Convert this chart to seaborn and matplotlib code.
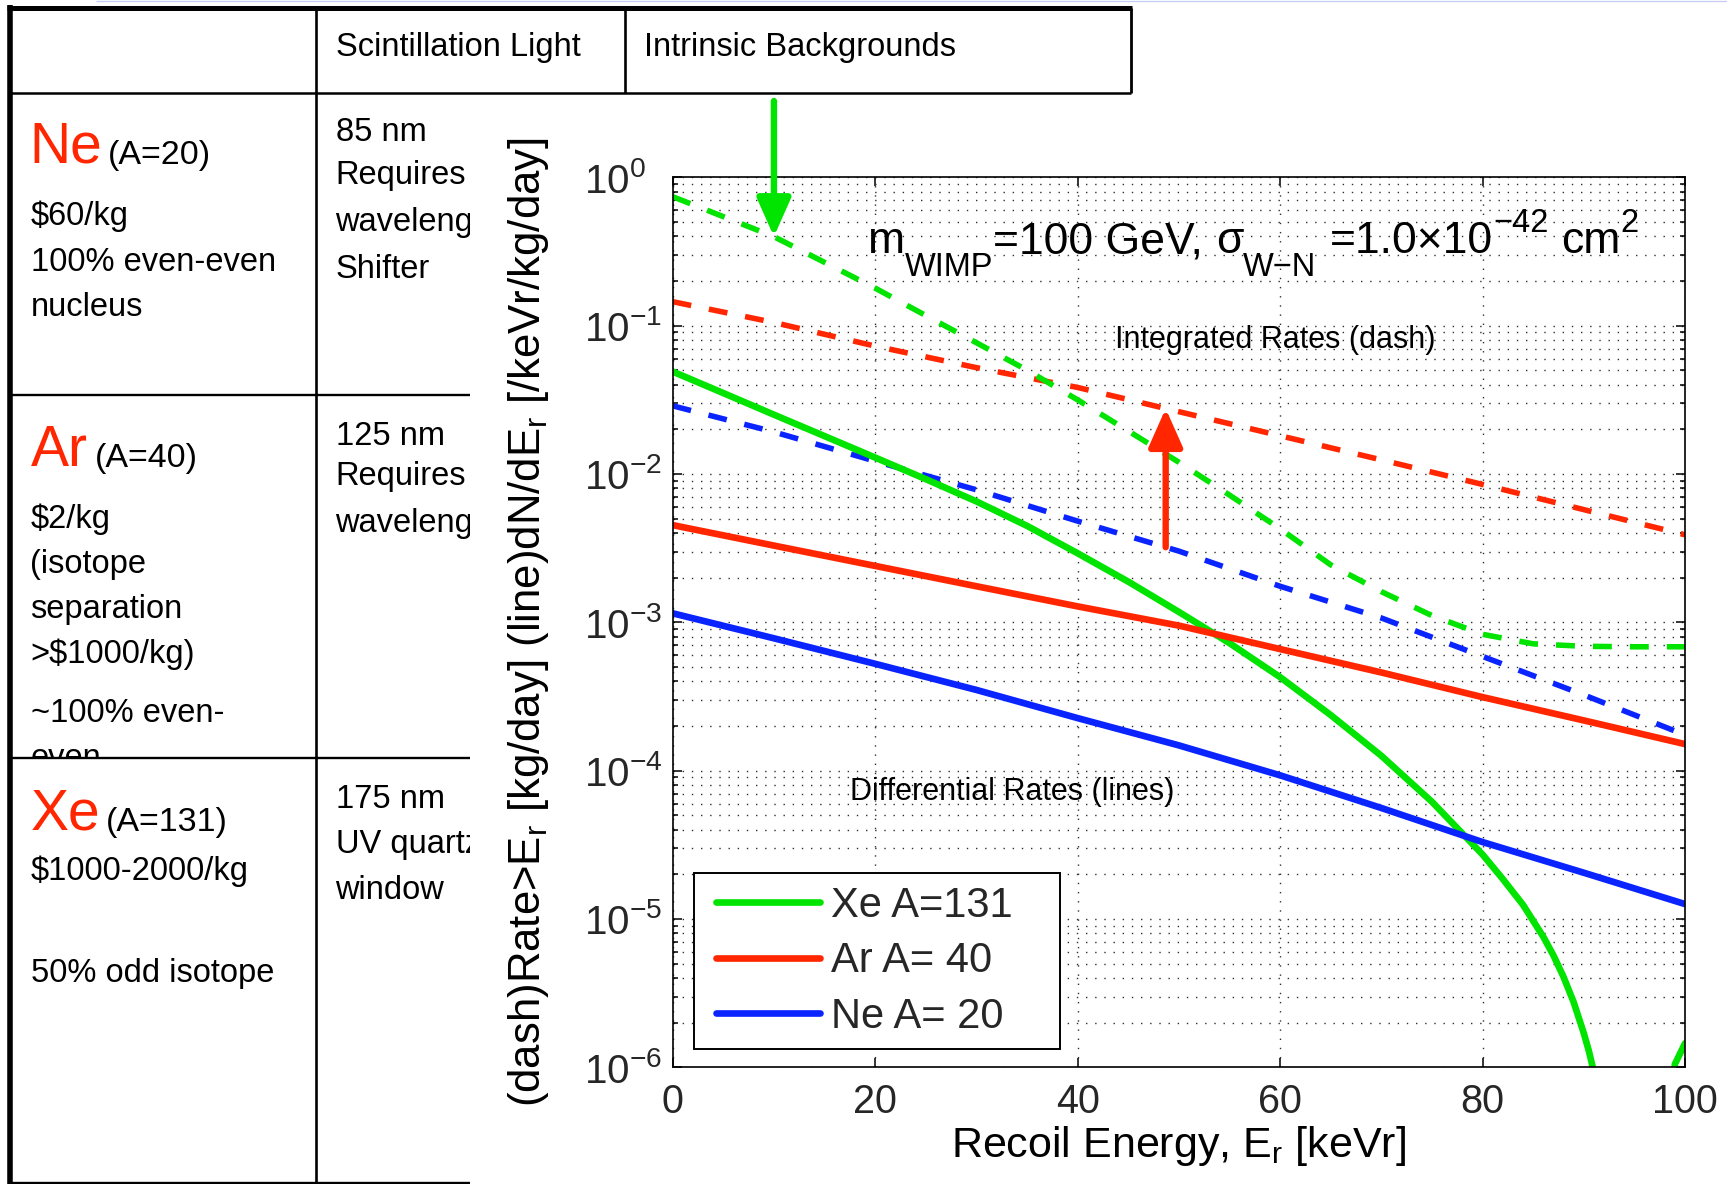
import numpy as np
import matplotlib
matplotlib.use("Agg")
import matplotlib.pyplot as plt
import seaborn as sns
from matplotlib import font_manager
from matplotlib.lines import Line2D
from matplotlib.legend_handler import HandlerLine2D
from matplotlib.transforms import Bbox, TransformedBbox
from matplotlib.ticker import LogLocator, NullFormatter, FixedLocator

# ---------------- rates vs recoil energy (keVr) ----------------
energy = [0, 10, 20, 30, 40, 50, 60, 70, 80, 90, 100]

# differential rates [/keVr/kg/day]
ar_diff = [4.52e-3, 3.29e-3, 2.40e-3, 1.75e-3, 1.28e-3, 9.5e-4, 6.6e-4, 4.59e-4, 3.13e-4, 2.18e-4, 1.51e-4]
ne_diff = [1.15e-3, 7.8e-4, 5.25e-4, 3.5e-4, 2.26e-4, 1.48e-4, 9.3e-5, 5.6e-5, 3.3e-5, 2.05e-5, 1.26e-5]

xe_diff_energy = [0, 5, 10, 15, 20, 25, 30, 35, 40, 45, 50, 55, 60, 65, 70, 75, 80, 82, 84, 86, 87,
                  88, 89, 90, 90.5, 91, 91.5, 92, 98.3, 99, 100]
xe_diff = [0.0490, 0.0351, 0.0251, 0.0180, 0.0129, 0.00923, 0.00653, 0.00447, 0.00292, 0.00188,
           0.001175, 7.24e-4, 4.27e-4, 2.37e-4, 1.26e-4, 6.17e-5, 2.72e-5, 1.86e-5, 1.245e-5, 7.59e-6,
           5.69e-6, 4.07e-6, 2.75e-6, 1.70e-6, 1.29e-6, 9.3e-7, 5.0e-7, 2.0e-7, 2.0e-7, 1.05e-6, 1.45e-6]

# integrated rates above threshold [kg/day]
ar_int = [0.145, 0.105, 0.0728, 0.0521, 0.0383, 0.0263, 0.0181, 0.01245, 0.0085, 0.00575, 0.00389]
ne_int = [0.0288, 0.0192, 0.0122, 0.00782, 0.00481, 0.00302, 0.00175, 0.00107, 5.89e-4, 3.24e-4, 1.74e-4]

xe_int_energy = [0, 5, 10, 15, 20, 25, 30, 35, 40, 45, 50, 55, 60, 65, 70, 75, 80, 85, 90, 95, 100]
xe_int = [0.740, 0.543, 0.398, 0.267, 0.179, 0.117, 0.0767, 0.0501, 0.0316, 0.0195, 0.0120, 0.00721,
          0.00427, 0.00244, 0.00161, 0.00111, 0.00083, 0.000716, 0.000689, 0.000684, 0.000684]

legend_labels = ["Xe A=131", "Ar A= 40", "Ne A= 20"]
x_ticks = [0, 20, 40, 60, 80, 100]

GREEN, RED, BLUE = "#00e400", "#ff2600", "#0a24ff"

# ---------------- style ----------------
sns.set_theme(style="white")
plt.rcParams["font.family"] = ["Liberation Sans", "DejaVu Sans"]
plt.rcParams.update({
    "mathtext.fontset": "custom",
    "mathtext.rm": "Liberation Sans",
    "mathtext.it": "Liberation Sans:italic",
    "mathtext.bf": "Liberation Sans:bold",
    "mathtext.sf": "Liberation Sans",
    "mathtext.default": "regular",
    "axes.unicode_minus": True,
})


def installed(name):
    try:
        font_manager.findfont(font_manager.FontProperties(family=name), fallback_to_default=False)
        return True
    except ValueError:
        return False


HAS_NARROW = installed("Liberation Sans Narrow")
NARROW = ["Liberation Sans Narrow", "Liberation Sans"] if HAS_NARROW else ["Liberation Sans"]
SYM_SIZE = 45 if HAS_NARROW else 41
MASS_SIZE = 27 if HAS_NARROW else 24.5

W, H, DPI = 1727, 1184, 100
fig = plt.figure(figsize=(W / DPI, H / DPI), dpi=DPI, facecolor="white")


def fx(x):
    return x / W


def fy(y):
    return 1.0 - y / H


def rule(x0, y0, x1, y1, lw, color="black"):
    fig.add_artist(Line2D([fx(x0), fx(x1)], [fy(y0), fy(y1)], transform=fig.transFigure,
                          color=color, linewidth=lw, solid_capstyle="butt"))


def cell(x, y, s, clip=None, **kw):
    kw.setdefault("fontsize", 23.5)
    kw.setdefault("color", "black")
    t = fig.text(fx(x), fy(y), s, ha="left", va="baseline", **kw)
    if clip is not None:
        x0, y0, x1, y1 = clip
        t.set_clip_box(TransformedBbox(Bbox([[fx(x0), fy(y1)], [fx(x1), fy(y0)]]), fig.transFigure))
        t.set_clip_on(True)
    return t


# ---------------- comparison table ----------------
rule(96, 0.8, W, 0.8, 0.9, color="#c6ccf0")
rule(7, 7.5, 1132, 7.5, 3.6)
rule(9.5, 5, 9.5, H, 4.0)
rule(9.5, 93, 1131, 93, 1.8)
rule(1130.5, 7.5, 1130.5, 93, 2.0)
rule(316.3, 7.5, 316.3, H, 1.9)
rule(624.5, 7.5, 624.5, 93, 1.9)
rule(9.5, 395, 470, 395, 1.7)
rule(9.5, 758.3, 470, 758.3, 1.7)
rule(9.5, 1183, 470, 1183, 1.7)

cell(335.5, 56, "Scintillation Light")
cell(644, 56, "Intrinsic Backgrounds")

col2_ne = (317, 93, 470, 395)
col2_ar = (317, 395, 470, 758)
col2_xe = (317, 758, 470, H)
col1_ar = (10, 395, 316, 757)

# Ne row
cell(29, 163, "Ne", color=RED, fontsize=SYM_SIZE, family=NARROW)
cell(108, 164, "(A=20)", fontsize=MASS_SIZE, family=NARROW)
cell(30.5, 225, "$60/kg")
cell(30.5, 271, "100% even-even")
cell(30.5, 316, "nucleus")
cell(335.5, 141, "85 nm", clip=col2_ne)
cell(335.5, 184, "Requires", clip=col2_ne)
cell(335.5, 231, "wavelength", clip=col2_ne)
cell(335.5, 278, "Shifter", clip=col2_ne)

# Ar row
cell(31, 466, "Ar", color=RED, fontsize=SYM_SIZE, family=NARROW)
cell(95, 467, "(A=40)", fontsize=MASS_SIZE, family=NARROW)
cell(30.5, 528, "$2/kg", clip=col1_ar)
cell(30.5, 573, "(isotope", clip=col1_ar)
cell(30.5, 618, "separation", clip=col1_ar)
cell(30.5, 663, ">$1000/kg)", clip=col1_ar)
cell(30.5, 722, "~100% even-", clip=col1_ar)
cell(30.5, 767, "even", clip=col1_ar)
cell(335.5, 445, "125 nm", clip=col2_ar)
cell(335.5, 485, "Requires", clip=col2_ar)
cell(335.5, 532, "wavelength", clip=col2_ar)

# Xe row
cell(31, 829, "Xe", color=RED, fontsize=SYM_SIZE, family=NARROW)
cell(106, 831, "(A=131)", fontsize=MASS_SIZE, family=NARROW)
cell(30.5, 880, "$1000-2000/kg")
cell(30.5, 982, "50% odd isotope")
cell(335.5, 808, "175 nm", clip=col2_xe)
cell(335.5, 853, "UV quartz", clip=col2_xe)
cell(335.5, 899, "window", clip=col2_xe)

# ---------------- rate plot ----------------
AX_L, AX_R, AX_T, AX_B = 672.7, 1685.0, 177.3, 1067.3
ax = fig.add_axes([fx(AX_L), fy(AX_B), (AX_R - AX_L) / W, (AX_B - AX_T) / H])
ax.set_zorder(5)
ax.set_facecolor("white")
ax.set_yscale("log")

DASH_LW, SOLID_LW = 4.0, 4.8
DASH = (0, (3.4, 3.25))
dashed = [
    (energy, ne_int, BLUE),
    (energy, ar_int, RED),
    (xe_int_energy, xe_int, GREEN),
]
for xs, ys, c in dashed:
    sns.lineplot(x=xs, y=ys, ax=ax, color=c, linewidth=DASH_LW, linestyle=DASH,
                 estimator=None, errorbar=None, sort=False, legend=False)

solid = [
    (xe_diff_energy, xe_diff, GREEN),
    (energy, ar_diff, RED),
    (energy, ne_diff, BLUE),
]
handles = []
for xs, ys, c in solid:
    sns.lineplot(x=xs, y=ys, ax=ax, color=c, linewidth=SOLID_LW,
                 estimator=None, errorbar=None, sort=False, legend=False)
    line = ax.get_lines()[-1]
    line.set_solid_joinstyle("round")
    handles.append(line)

ax.set_xlim(0, 100)
ax.set_ylim(1e-6, 1)
ax.xaxis.set_major_locator(FixedLocator(x_ticks))
ax.yaxis.set_major_locator(LogLocator(base=10, numticks=12))
ax.yaxis.set_minor_locator(LogLocator(base=10, subs=np.arange(2, 10), numticks=12))
ax.yaxis.set_minor_formatter(NullFormatter())

GRID = dict(color="#303030", linestyle=(0, (1.0, 5.6)), linewidth=1.0)
ax.grid(True, which="major", axis="x", **GRID)
ax.grid(True, which="both", axis="y", **GRID)
ax.set_axisbelow(True)

for s in ax.spines.values():
    s.set_color("black")
    s.set_linewidth(1.2)
ax.tick_params(which="both", direction="in", top=True, right=True, bottom=True, left=True,
               color="black", width=1.1)
ax.tick_params(which="major", length=6.5)
ax.tick_params(which="minor", length=3.6)
ax.tick_params(axis="x", which="major", labelsize=28.5, pad=11)
ax.tick_params(axis="y", which="major", labelsize=29, pad=64)

ax.set_xlabel(r"Recoil Energy, E$_\mathregular{r}$ [keVr]", fontsize=31, color="black")
ax.set_ylabel(r"(dash)Rate>E$_\mathregular{r}$ [kg/day] (line)dN/dE$_\mathregular{r}$ [/keVr/kg/day]",
              fontsize=31.5, color="black")
ax.xaxis.set_label_coords(0.5, -0.064)
ax.yaxis.set_label_coords(-0.120, 0.5)

# model parameters, set piece by piece so the sub/superscripts sit like the plot's own labels
TITLE_Y = 0.9149
SUB = 23.5
title_pieces = [
    ("WIMP", SUB, 0, -16.5),
    ("=100 GeV,", 32, 0, 0),
    ("σ", 32, 9, 0),
    ("W\u2212N", SUB, 0, -16.5),
    ("=1.0\u00d710", 32, 9.5, 0),
    ("\u221242", SUB, 0, 15),
    ("cm", 32, 9.5, 0),
    ("2", SUB, 0, 15),
]
prev = ax.text(0.1929, TITLE_Y, "m", transform=ax.transAxes, fontsize=32,
               ha="left", va="baseline", color="black")
for s, size, gap, dy in title_pieces:
    prev = ax.annotate(s, xy=(1, TITLE_Y), xycoords=(prev, ax.transAxes),
                       xytext=(gap, dy), textcoords="offset points",
                       fontsize=size, ha="left", va="baseline", color="black")

ax.text(0.437, 0.8078, "Integrated Rates (dash)", transform=ax.transAxes,
        fontsize=22, ha="left", va="baseline", color="black")
ax.text(0.1752, 0.3003, "Differential Rates (lines)", transform=ax.transAxes,
        fontsize=22, ha="left", va="baseline", color="black")


def log_interp(e, xs, ys):
    return 10 ** np.interp(e, xs, np.log10(ys))


# arrows: Xe threshold gain at low energy, Ne -> Ar integrated-rate gap
ARROW = dict(arrowstyle="-|>,head_length=0.45,head_width=0.2", mutation_scale=52,
             lw=4.6, shrinkA=0, shrinkB=0)
green_e = 10.0
ax.annotate("", xy=(green_e, log_interp(green_e, xe_int_energy, xe_int)),
            xytext=(green_e, 1.0857), xycoords="data", textcoords=("data", "axes fraction"),
            annotation_clip=False, arrowprops=dict(color=GREEN, **ARROW))
red_e = 48.7
ax.annotate("", xy=(red_e, log_interp(red_e, energy, ar_int)),
            xytext=(red_e, log_interp(red_e, energy, ne_int)), xycoords="data",
            arrowprops=dict(color=RED, **ARROW))

leg = ax.legend(handles, legend_labels, loc="lower left",
                bbox_to_anchor=(0.0213, 0.0202, (1060 - 694.3) / (AX_R - AX_L), 0.2),
                mode="expand", borderaxespad=0, fontsize=30, handlelength=2.71,
                handletextpad=0.28, labelspacing=0.37, borderpad=0.3,
                handler_map={Line2D: HandlerLine2D(xpad=0.22)},
                fancybox=False, framealpha=1, edgecolor="black")
leg.get_frame().set_linewidth(1.4)
leg.set_zorder(10)

fig.canvas.draw()
for lab in ax.get_yticklabels():
    lab.set_horizontalalignment("left")

fig.savefig("out.png", dpi=DPI, facecolor="white")
